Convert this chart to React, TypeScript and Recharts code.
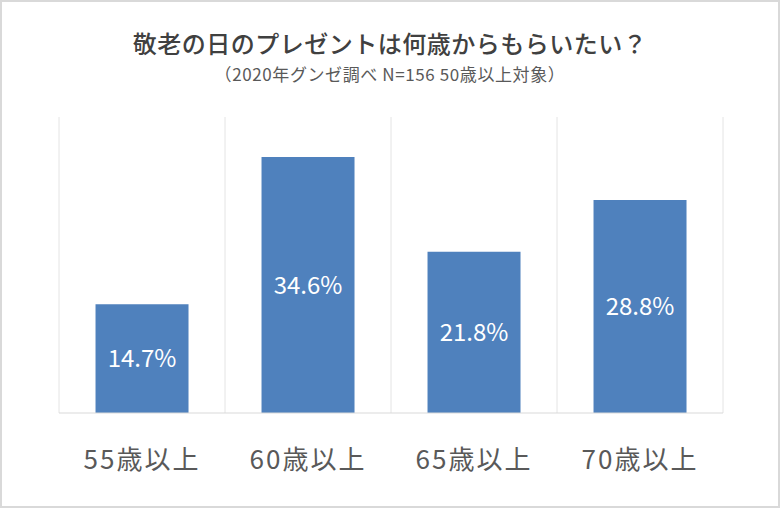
import { BarChart, Bar, XAxis, YAxis, CartesianGrid, LabelList } from 'recharts';

const TITLE = '敬老の日のプレゼントは何歳からもらいたい？';
const SUBTITLE = '（2020年グンゼ調べ N=156 50歳以上対象）';

const categories = ['55歳以上', '60歳以上', '65歳以上', '70歳以上'];
const shares = [14.7, 34.6, 21.8, 28.8];

const data = categories.map((name, i) => ({ name, value: shares[i] }));

const FONT = '"Noto Sans CJK JP", "Noto Sans", sans-serif';
const BAR_COLOR = '#4F81BD';

export default function App() {
  return (
    <div style={{ position: 'absolute', left: 0, top: 0, width: 780, height: 508, background: '#fff', fontFamily: FONT }}>
      <div style={{ position: 'absolute', top: 27, left: 0, width: 780, textAlign: 'center', fontSize: 24, fontWeight: 500, color: '#404040', lineHeight: '32px', letterSpacing: 0.5 }}>
        {TITLE}
      </div>
      <div style={{ position: 'absolute', top: 62, left: 0, width: 780, textAlign: 'center', fontSize: 17, color: '#595959', lineHeight: '24px', letterSpacing: 0.6 }}>
        {SUBTITLE}
      </div>
      <BarChart
        width={780}
        height={508}
        data={data}
        margin={{ top: 117, right: 57, left: 59, bottom: 0 }}
        barCategoryGap="22%"
      >
        <CartesianGrid
          horizontal={false}
          stroke="#e4e4e4"
          verticalCoordinatesGenerator={({ offset }: any) =>
            categories.map((_, i) => offset.left + (i * offset.width) / categories.length).concat(offset.left + offset.width)
          }
        />
        <XAxis
          dataKey="name"
          height={95}
          axisLine={{ stroke: '#d9d9d9' }}
          tickLine={false}
          tickSize={0}
          tickMargin={38}
          tick={{ fontSize: 26, fill: '#595959', fontFamily: FONT, letterSpacing: 2 }}
        />
        <YAxis hide domain={[0, 40]} />
        <Bar dataKey="value" fill={BAR_COLOR} isAnimationActive={false}>
          <LabelList
            dataKey="value"
            position="center"
            formatter={(v: any) => `${v}%`}
            style={{ fill: '#fff', fontSize: 24, fontFamily: FONT }}
          />
        </Bar>
      </BarChart>
      <div style={{ position: 'absolute', left: 0, top: 0, width: 780, height: 508, boxSizing: 'border-box', border: '2px solid #d9d9d9', pointerEvents: 'none' }} />
    </div>
  );
}
